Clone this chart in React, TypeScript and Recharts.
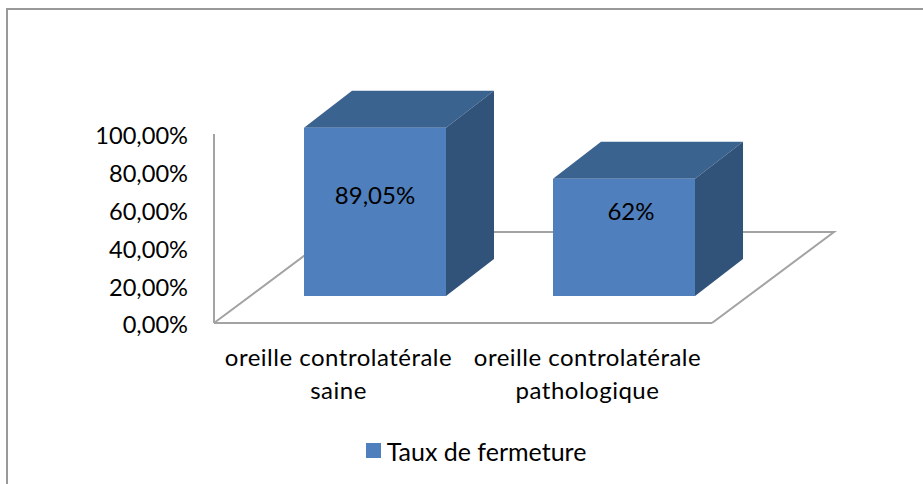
import React from 'react';
import { ComposedChart, Bar, XAxis, YAxis, Legend, LabelList, usePlotArea } from 'recharts';

const categories = ['oreille controlatérale saine', 'oreille controlatérale pathologique'];
const closureRates = [89.05, 62];
const valueLabels = ['89,05%', '62%'];
const yTicks = [0, 20, 40, 60, 80, 100];

const chartData = categories.map((name, i) => ({ name, rate: closureRates[i], label: valueLabels[i] }));

const FONT = 'Lato, Carlito, sans-serif';
const FONT_SIZE = 24;
const GREY = '#A3A3A3';
const BLUE = '#4F7FBC';

// 3D look: floor depth, and where the box sits on that floor
const FLOOR_DX = 122;
const FLOOR_DY = 91;
const BAR_DX = 36;
const BAR_DY = 27;
const BOX_DX = 48;
const BOX_DY = 37;
const labelDrop = [68, 33];
const labelShift = [0, 7];

const Floor = () => {
  const plot = usePlotArea();
  if (!plot) return null;
  const left = plot.x;
  const right = plot.x + plot.width;
  const base = plot.y + plot.height;
  const d = `M${left},${base} L${left + FLOOR_DX},${base - FLOOR_DY} L${right + FLOOR_DX},${base - FLOOR_DY} L${right},${base}`;
  return <path d={d} fill="none" stroke={GREY} strokeWidth={2} />;
};

const Box = (props: any) => {
  const { x, y, width, height } = props;
  const l = x + BAR_DX;
  const r = l + width;
  const t = y - BAR_DY;
  const b = t + height;
  return (
    <g>
      <polygon points={`${l},${t} ${l + BOX_DX},${t - BOX_DY} ${r + BOX_DX},${t - BOX_DY} ${r},${t}`} fill="#3B638F" />
      <polygon points={`${r},${t} ${r + BOX_DX},${t - BOX_DY} ${r + BOX_DX},${b - BOX_DY} ${r},${b}`} fill="#325379" />
      <rect x={l} y={t} width={width} height={height} fill={BLUE} />
    </g>
  );
};

const BoxLabel = (props: any) => {
  const { x, y, width, index, value } = props;
  return (
    <text
      x={x + BAR_DX + width / 2 + labelShift[index]}
      y={y - BAR_DY + labelDrop[index]}
      dy="0.35em"
      textAnchor="middle"
      fontFamily={FONT}
      fontSize={FONT_SIZE}
      fill="#000"
    >
      {value}
    </text>
  );
};

const CategoryTick = (props: any) => {
  const { x, y, payload } = props;
  const text: string = payload.value;
  const cut = text.lastIndexOf(' ');
  return (
    <text x={x} textAnchor="middle" fontFamily={FONT} fontSize={FONT_SIZE} letterSpacing={0.5} fill="#000">
      <tspan x={x} y={y + 35}>{text.slice(0, cut)}</tspan>
      <tspan x={x} y={y + 68}>{text.slice(cut + 1)}</tspan>
    </text>
  );
};

const LegendRow = (props: any) => (
  <div style={{ display: 'flex', justifyContent: 'center', alignItems: 'center', height: 25 }}>
    {props.payload.map((item: any) => (
      <React.Fragment key={item.value}>
        <span style={{ width: 15, height: 15, background: item.color, marginRight: 6 }} />
        <span style={{ color: '#000', fontFamily: FONT, fontSize: 25 }}>{item.value}</span>
      </React.Fragment>
    ))}
  </div>
);

const App = () => {
  return (
    <div style={{ position: 'absolute', left: 0, top: 0, width: 923, height: 484, background: '#fff', overflow: 'hidden' }}>
      <div style={{ position: 'absolute', left: 6, top: 8, width: 917, height: 476, borderTop: '2px solid #999', borderLeft: '2px solid #999' }} />
      <ComposedChart
        width={923}
        height={484}
        data={chartData}
        margin={{ top: 134, right: 211, left: 144, bottom: 21 }}
        style={{ position: 'absolute', left: 0, top: 0 }}
      >
        <Floor />
        <XAxis
          dataKey="name"
          height={115}
          tick={<CategoryTick />}
          tickLine={false}
          axisLine={{ stroke: GREY, strokeWidth: 2 }}
          interval={0}
        />
        <YAxis
          width={70}
          domain={[0, 100]}
          ticks={yTicks}
          tickFormatter={(v: number) => `${v.toFixed(2).replace('.', ',')}%`}
          tick={{ fill: '#000', fontFamily: FONT, fontSize: 23.6, dy: 2 }}
          tickLine={false}
          tickMargin={20}
          axisLine={{ stroke: GREY, strokeWidth: 2 }}
        />
        <Bar dataKey="rate" name="Taux de fermeture" fill={BLUE} barSize={142} shape={<Box />} isAnimationActive={false}>
          <LabelList dataKey="label" content={<BoxLabel />} />
        </Bar>
        <Legend
          verticalAlign="bottom"
          align="center"
          height={25}
          wrapperStyle={{ left: 166, width: 620 }}
          content={<LegendRow />}
        />
      </ComposedChart>
    </div>
  );
};

export default App;
